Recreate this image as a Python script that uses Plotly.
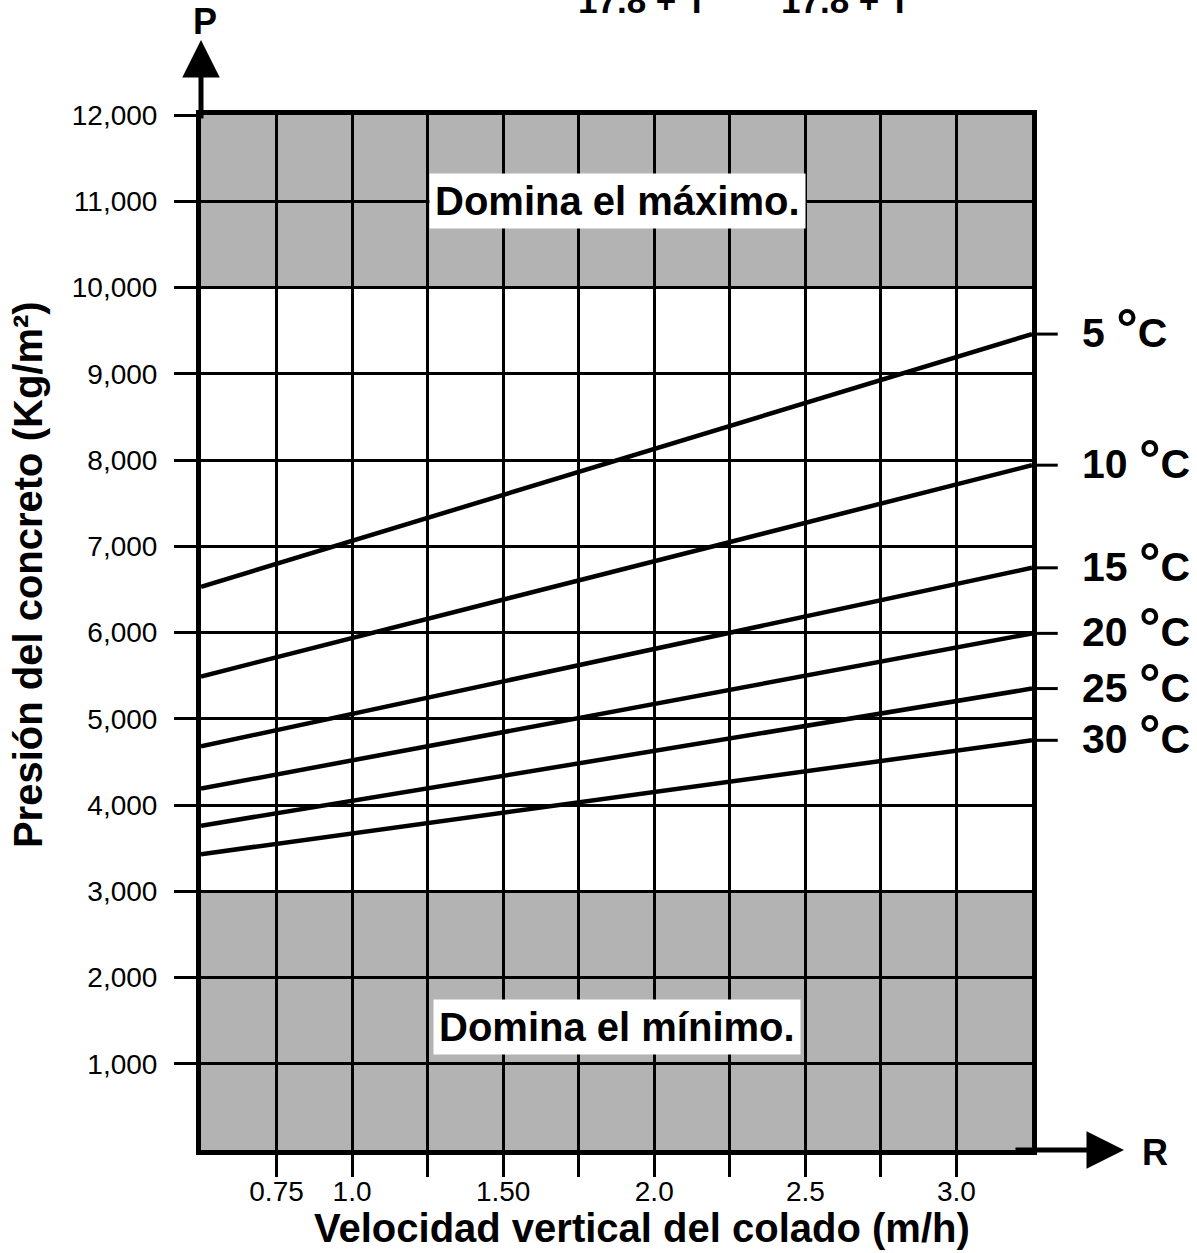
import plotly.graph_objects as go

# ---------------- data ----------------
R_ends = [0.5, 3.25]                      # m/h, ends of every temperature line
temps = ["5", "10", "15", "20", "25", "30"]   # °C
P_at_start = [6530, 5490, 4680, 4190, 3760, 3430]   # kg/m² at R = 0.5
P_at_end = [9460, 7940, 6750, 5990, 5350, 4750]     # kg/m² at R = 3.25

x_tickvals = [0.75, 1.0, 1.25, 1.5, 1.75, 2.0, 2.25, 2.5, 2.75, 3.0]
x_ticktext = ["0.75", "1.0", "", "1.50", "", "2.0", "", "2.5", "", "3.0"]
y_tickvals = [1000, 2000, 3000, 4000, 5000, 6000, 7000, 8000, 9000, 10000, 11000, 12000]
y_ticktext = ["1,000", "2,000", "3,000", "4,000", "5,000", "6,000", "7,000",
              "8,000", "9,000", "10,000", "11,000", "12,000"]
zone_max = [10000, 12000]   # "Domina el máximo."
zone_min = [0, 3000]        # "Domina el mínimo."
zone_labels = ["Domina el máximo.", "Domina el mínimo."]
zone_label_pos = [(1.878, 11000), (1.878, 1430)]

FONT = "Liberation Sans, Arial, sans-serif"
GRAY = "#b3b3b3"

fig = go.Figure()

for t, p0, p1 in zip(temps, P_at_start, P_at_end):
    fig.add_trace(go.Scatter(
        x=R_ends, y=[p0, p1], mode="lines",
        line=dict(color="black", width=4.5),
        name=f"{t} °C", showlegend=False, hoverinfo="x+y+name"))

shapes = []
for z in (zone_max, zone_min):
    shapes.append(dict(type="rect", xref="paper", x0=0, x1=1, yref="y",
                       y0=z[0], y1=z[1], fillcolor=GRAY, line=dict(width=0),
                       layer="below"))
# short leader ticks at the right end of each temperature line
for p1 in P_at_end:
    shapes.append(dict(type="line", xref="paper", x0=1, x1=1.031, yref="y",
                       y0=p1, y1=p1, line=dict(color="black", width=3)))

annotations = []
for t, p1 in zip(temps, P_at_end):
    annotations.append(dict(
        xref="paper", x=1.058, yref="y", y=p1, xanchor="left", yanchor="middle",
        yshift=6,
        text=f"<b>{t} <span style='font-size:54px'>°</span>C</b>",
        showarrow=False,
        font=dict(family=FONT, size=41, color="black")))

for txt, (lx, ly) in zip(zone_labels, zone_label_pos):
    annotations.append(dict(
        x=lx, y=ly, xref="x", yref="y", xanchor="center", yanchor="middle",
        text=f"<b>{txt}</b>", showarrow=False,
        bgcolor="white", borderpad=5,
        font=dict(family=FONT, size=40, color="black")))

# axis arrows
annotations.append(dict(xref="paper", yref="paper", x=0, y=1.0725, ax=0, ay=80,
                        text="", showarrow=True, arrowhead=2, arrowsize=1.5,
                        arrowwidth=5, arrowcolor="black", standoff=0))
annotations.append(dict(xref="paper", yref="paper", x=1.1107, y=0, ax=-110, ay=0,
                        text="", showarrow=True, arrowhead=2, arrowsize=1.5,
                        arrowwidth=5, arrowcolor="black", standoff=0))
annotations.append(dict(xref="paper", yref="paper", x=0.005, y=1.0899,
                        xanchor="center", yanchor="middle",
                        text="<b>P</b>", showarrow=False,
                        font=dict(family=FONT, size=36, color="black")))
annotations.append(dict(xref="paper", yref="paper", x=1.148, y=-0.002,
                        xanchor="center", yanchor="middle",
                        text="<b>R</b>", showarrow=False,
                        font=dict(family=FONT, size=36, color="black")))

# axis titles
annotations.append(dict(xref="paper", yref="paper", x=0.531, y=-0.0754,
                        xanchor="center", yanchor="middle",
                        text="<b>Velocidad vertical del colado (m/h)</b>",
                        showarrow=False,
                        font=dict(family=FONT, size=40, color="black")))
annotations.append(dict(xref="paper", yref="paper", x=-0.208, y=0.5556,
                        xanchor="center", yanchor="middle",
                        text="<b>Presión del concreto (Kg/m²)</b>", textangle=-90,
                        showarrow=False,
                        font=dict(family=FONT, size=40, color="black")))

# partially visible formula denominators at the very top
for fx in (0.531, 0.775):
    annotations.append(dict(xref="paper", yref="paper", x=fx, y=1.1111,
                            xanchor="center", yanchor="middle",
                            text="<b>17.8 + T</b>", showarrow=False,
                            font=dict(family=FONT, size=35, color="black")))

fig.update_layout(
    width=1197, height=1253,
    margin=dict(l=201, r=165, t=115, b=103),
    paper_bgcolor="white", plot_bgcolor="white",
    shapes=shapes, annotations=annotations,
    font=dict(family=FONT, color="black"),
    xaxis=dict(range=R_ends, tickvals=x_tickvals, ticktext=x_ticktext,
               showgrid=True, gridcolor="black", gridwidth=3,
               ticks="outside", ticklen=22, tickwidth=3, tickcolor="black",
               ticklabelstandoff=-10,
               tickfont=dict(family=FONT, size=28, color="black"),
               showline=True, linecolor="black", linewidth=5, mirror=True,
               zeroline=False),
    yaxis=dict(range=[0, 12000], tickvals=y_tickvals, ticktext=y_ticktext,
               showgrid=True, gridcolor="black", gridwidth=3,
               ticks="outside", ticklen=22, tickwidth=3, tickcolor="black",
               ticklabelstandoff=11,
               tickfont=dict(family=FONT, size=28, color="black"),
               showline=True, linecolor="black", linewidth=5, mirror=True,
               zeroline=False),
)

fig.write_html("out.html", config={"displayModeBar": False},
               post_script="document.body.style.margin='0';")
